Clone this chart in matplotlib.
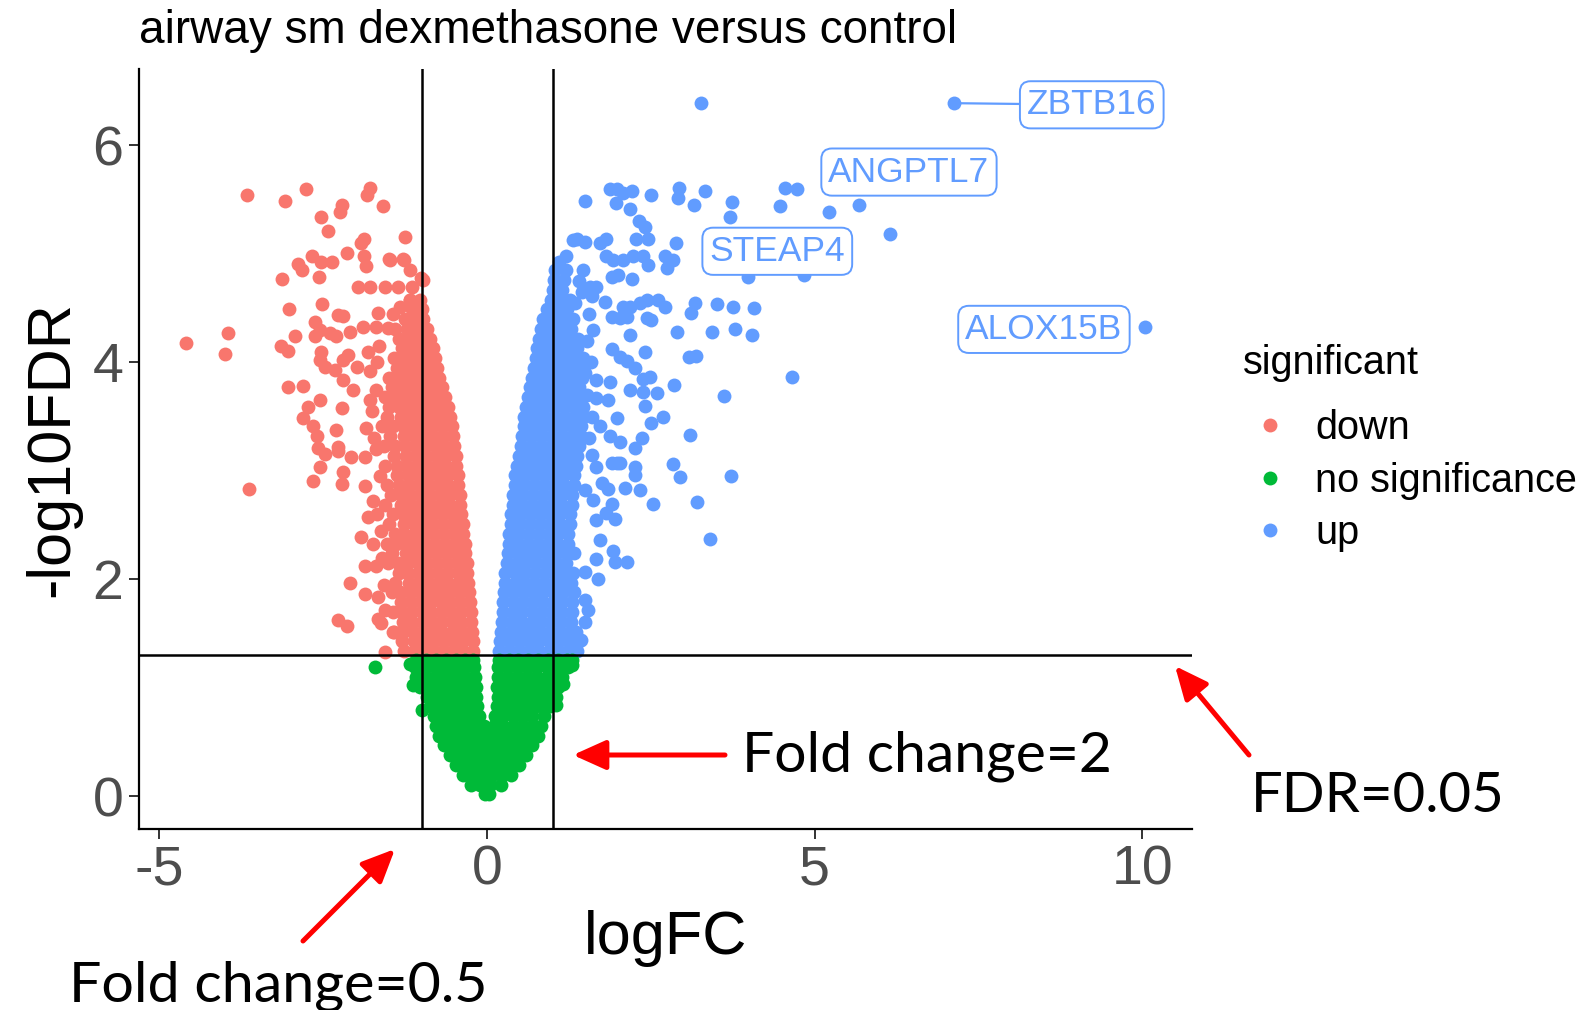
import numpy as np
import matplotlib
matplotlib.use("Agg")
import matplotlib.pyplot as plt
from matplotlib.lines import Line2D

# colours used by ggplot2 for the three groups
col_down = "#F8766D"
col_ns = "#00BA38"
col_up = "#619CFF"

# ---------------- data ----------------
# dense core of the "down" cloud, one list of logFC values per -log10FDR row
down_core_y = [1.34, 1.43, 1.52, 1.61, 1.70, 1.79, 1.88, 1.97, 2.06, 2.15, 2.24, 2.33,
               2.42, 2.51, 2.60, 2.69, 2.78, 2.87, 2.96, 3.05, 3.14, 3.23, 3.32, 3.41,
               3.50, 3.59, 3.68, 3.77, 3.86, 3.95, 4.04, 4.13, 4.22, 4.31, 4.40, 4.49, 4.58]
down_core_x = [
    [-0.21, -0.36, -0.51, -0.66, -0.81, -0.96, -1.11, -1.26],
    [-0.22, -0.37, -0.52, -0.67, -0.82, -0.97, -1.12, -1.30],
    [-0.23, -0.38, -0.53, -0.68, -0.83, -0.98, -1.13, -1.28, -1.42],
    [-0.24, -0.39, -0.54, -0.69, -0.84, -0.99, -1.14, -1.29],
    [-0.25, -0.40, -0.55, -0.70, -0.85, -1.00, -1.15, -1.30, -1.43],
    [-0.26, -0.41, -0.56, -0.71, -0.86, -1.01, -1.16, -1.31],
    [-0.28, -0.43, -0.58, -0.73, -0.88, -1.03, -1.18, -1.33, -1.45],
    [-0.29, -0.44, -0.59, -0.74, -0.89, -1.04, -1.19, -1.40],
    [-0.30, -0.45, -0.60, -0.75, -0.90, -1.05, -1.20, -1.35],
    [-0.31, -0.46, -0.61, -0.76, -0.91, -1.06, -1.21, -1.36, -1.51],
    [-0.33, -0.48, -0.63, -0.78, -0.93, -1.08, -1.23, -1.45],
    [-0.34, -0.49, -0.64, -0.79, -0.94, -1.09, -1.24, -1.39, -1.52],
    [-0.36, -0.51, -0.66, -0.81, -0.96, -1.11, -1.26, -1.41],
    [-0.37, -0.52, -0.67, -0.82, -0.97, -1.12, -1.27, -1.50],
    [-0.39, -0.54, -0.69, -0.84, -0.99, -1.14, -1.29, -1.44],
    [-0.41, -0.56, -0.71, -0.86, -1.01, -1.16, -1.31, -1.55],
    [-0.42, -0.57, -0.72, -0.87, -1.02, -1.17, -1.32, -1.47],
    [-0.44, -0.59, -0.74, -0.89, -1.04, -1.19, -1.34, -1.52],
    [-0.45, -0.60, -0.75, -0.90, -1.05, -1.20, -1.38],
    [-0.47, -0.62, -0.77, -0.92, -1.07, -1.22, -1.37, -1.55],
    [-0.48, -0.63, -0.78, -0.93, -1.08, -1.23, -1.42],
    [-0.50, -0.65, -0.80, -0.95, -1.10, -1.25, -1.40, -1.58],
    [-0.52, -0.67, -0.82, -0.97, -1.12, -1.27, -1.48],
    [-0.54, -0.69, -0.84, -0.99, -1.14, -1.29, -1.44, -1.60],
    [-0.56, -0.71, -0.86, -1.01, -1.16, -1.31, -1.52],
    [-0.59, -0.74, -0.89, -1.04, -1.19, -1.34, -1.49],
    [-0.64, -0.79, -0.94, -1.09, -1.24, -1.39, -1.56],
    [-0.68, -0.83, -0.98, -1.13, -1.28, -1.45],
    [-0.73, -0.88, -1.03, -1.18, -1.33, -1.50],
    [-0.77, -0.92, -1.07, -1.22, -1.37],
    [-0.80, -0.95, -1.10, -1.25, -1.42],
    [-0.83, -0.98, -1.13, -1.30],
    [-0.87, -1.02, -1.17, -1.34],
    [-0.92, -1.07, -1.22, -1.40],
    [-0.97, -1.12, -1.25],
    [-1.00, -1.15],
    [-1.02, -1.18],
]
# scattered "down" genes
down_pts = [
    (-3.66, 5.54), (-3.08, 5.49), (-2.77, 5.60), (-1.78, 5.61), (-1.83, 5.54), (-1.59, 5.44),
    (-2.21, 5.45), (-2.25, 5.39), (-2.54, 5.34), (-2.42, 5.21), (-1.25, 5.16), (-1.88, 5.14),
    (-1.93, 5.10), (-2.13, 5.01), (-2.67, 4.98), (-2.89, 4.91), (-2.82, 4.85), (-2.53, 4.93),
    (-2.37, 4.93), (-2.57, 4.79), (-3.13, 4.77), (-1.88, 4.98), (-1.85, 4.89), (-1.48, 4.94),
    (-1.28, 4.95), (-1.18, 4.85), (-1.01, 4.78), (-1.97, 4.70), (-1.79, 4.70), (-1.56, 4.70),
    (-1.36, 4.70), (-1.15, 4.70), (-2.52, 4.54), (-3.03, 4.49), (-2.27, 4.44), (-2.20, 4.43),
    (-1.66, 4.46), (-1.43, 4.45), (-1.33, 4.51), (-1.18, 4.58), (-4.59, 4.18), (-3.95, 4.27),
    (-4.00, 4.08), (-3.14, 4.15), (-3.04, 4.11), (-2.93, 4.24), (-2.62, 4.37), (-2.62, 4.24),
    (-2.55, 4.30), (-2.40, 4.27), (-2.30, 4.24), (-2.09, 4.28), (-1.89, 4.33), (-1.69, 4.33),
    (-1.51, 4.32), (-2.53, 4.10), (-2.55, 4.02), (-2.48, 3.96), (-2.32, 3.93), (-2.20, 4.02),
    (-2.12, 4.07), (-1.99, 3.96), (-1.79, 3.92), (-3.04, 3.77), (-2.81, 3.78), (-2.20, 3.84),
    (-2.04, 3.75), (-2.55, 3.65), (-2.73, 3.59), (-2.81, 3.49), (-2.21, 3.58), (-2.65, 3.41),
    (-2.60, 3.32), (-2.58, 3.21), (-2.48, 3.16), (-2.30, 3.38), (-2.27, 3.22), (-2.07, 3.13),
    (-1.87, 3.13), (-3.63, 2.83), (-2.66, 2.91), (-2.55, 3.04), (-2.27, 3.18), (-2.22, 2.88),
    (-2.20, 2.99), (-1.87, 2.86), (-1.74, 2.72), (-1.81, 2.58), (-1.92, 2.39), (-1.74, 2.33),
    (-1.87, 2.12), (-1.69, 2.12), (-2.09, 1.97), (-1.87, 1.87), (-1.66, 1.84), (-2.27, 1.63),
    (-2.14, 1.57), (-1.66, 1.64), (-1.43, 1.52), (-1.56, 1.33), (-1.75, 3.55), (-1.70, 3.75),
    (-1.85, 3.40), (-1.72, 3.30), (-1.78, 3.65), (-1.68, 4.00), (-1.82, 4.10), (-1.65, 4.15),
    (-1.70, 3.20), (-1.64, 2.95), (-1.68, 2.60), (-1.62, 2.45), (-1.60, 2.20), (-1.57, 1.95),
    (-1.55, 1.72), (-1.62, 1.60), (-0.98, 4.76), (-1.49, 4.95), (-1.26, 4.94),
]

# dense core of the "up" cloud
up_core_y = [1.34, 1.43, 1.52, 1.61, 1.70, 1.79, 1.88, 1.97, 2.06, 2.15, 2.24, 2.33,
             2.42, 2.51, 2.60, 2.69, 2.78, 2.87, 2.96, 3.05, 3.14, 3.23, 3.32, 3.41,
             3.50, 3.59, 3.68, 3.77, 3.86, 3.95, 4.04, 4.13, 4.22, 4.31, 4.40, 4.49,
             4.58, 4.67, 4.76, 4.85]
up_core_x = [
    [0.19, 0.34, 0.49, 0.64, 0.79, 0.94, 1.09, 1.24, 1.38],
    [0.20, 0.35, 0.50, 0.65, 0.80, 0.95, 1.10, 1.25, 1.40],
    [0.21, 0.36, 0.51, 0.66, 0.81, 0.96, 1.11, 1.26, 1.36],
    [0.23, 0.38, 0.53, 0.68, 0.83, 0.98, 1.13, 1.28],
    [0.24, 0.39, 0.54, 0.69, 0.84, 0.99, 1.14, 1.30],
    [0.25, 0.40, 0.55, 0.70, 0.85, 1.00, 1.15, 1.29],
    [0.26, 0.41, 0.56, 0.71, 0.86, 1.01, 1.16, 1.32],
    [0.27, 0.42, 0.57, 0.72, 0.87, 1.02, 1.17, 1.28],
    [0.28, 0.43, 0.58, 0.73, 0.88, 1.03, 1.18, 1.31],
    [0.30, 0.45, 0.60, 0.75, 0.90, 1.05, 1.20],
    [0.32, 0.47, 0.62, 0.77, 0.92, 1.07, 1.22, 1.33],
    [0.33, 0.48, 0.63, 0.78, 0.93, 1.08, 1.23],
    [0.34, 0.49, 0.64, 0.79, 0.94, 1.09, 1.24],
    [0.36, 0.51, 0.66, 0.81, 0.96, 1.11, 1.26],
    [0.37, 0.52, 0.67, 0.82, 0.97, 1.12, 1.27],
    [0.39, 0.54, 0.69, 0.84, 0.99, 1.14, 1.29],
    [0.40, 0.55, 0.70, 0.85, 1.00, 1.15, 1.30],
    [0.42, 0.57, 0.72, 0.87, 1.02, 1.17, 1.32],
    [0.43, 0.58, 0.73, 0.88, 1.03, 1.18, 1.33],
    [0.46, 0.61, 0.76, 0.91, 1.06, 1.21, 1.36],
    [0.49, 0.64, 0.79, 0.94, 1.09, 1.24, 1.38],
    [0.52, 0.67, 0.82, 0.97, 1.12, 1.27, 1.40],
    [0.54, 0.69, 0.84, 0.99, 1.14, 1.29, 1.44],
    [0.56, 0.71, 0.86, 1.01, 1.16, 1.31, 1.43],
    [0.57, 0.72, 0.87, 1.02, 1.17, 1.32, 1.46],
    [0.59, 0.74, 0.89, 1.04, 1.19, 1.34, 1.47],
    [0.62, 0.77, 0.92, 1.07, 1.22, 1.37],
    [0.65, 0.80, 0.95, 1.10, 1.25, 1.40],
    [0.68, 0.83, 0.98, 1.13, 1.28, 1.45],
    [0.71, 0.86, 1.01, 1.16, 1.31, 1.44],
    [0.74, 0.89, 1.04, 1.19, 1.34, 1.46],
    [0.77, 0.92, 1.07, 1.22, 1.37],
    [0.79, 0.94, 1.09, 1.24, 1.39],
    [0.83, 0.98, 1.13, 1.28],
    [0.86, 1.01, 1.16, 1.31],
    [0.92, 1.07, 1.22],
    [0.98, 1.13, 1.26],
    [1.00, 1.15],
    [1.02, 1.17],
    [1.04, 1.20],
]
# scattered "up" genes
up_pts = [
    (3.27, 6.39), (7.13, 6.39), (10.04, 4.33),
    (1.50, 5.49), (1.87, 5.60), (1.99, 5.60), (2.07, 5.56), (2.21, 5.58), (1.97, 5.47),
    (2.18, 5.41), (2.51, 5.54), (2.93, 5.61), (2.91, 5.52), (3.33, 5.58), (3.16, 5.45),
    (3.74, 5.48), (3.71, 5.34), (4.55, 5.61), (4.73, 5.60), (4.47, 5.44), (5.22, 5.39),
    (5.67, 5.45), (6.15, 5.18), (2.32, 5.30), (2.41, 5.25), (1.37, 5.14), (1.49, 5.11),
    (1.73, 5.10), (1.81, 5.14), (2.28, 5.14), (2.46, 5.14), (2.89, 5.10), (1.82, 4.98),
    (1.93, 4.94), (2.08, 4.94), (2.23, 4.98), (2.38, 4.98), (2.46, 4.90), (2.71, 4.98),
    (2.84, 4.94), (2.74, 4.87), (3.99, 4.79), (4.84, 4.81), (1.90, 4.79), (2.00, 4.81),
    (2.21, 4.77), (1.47, 4.85), (1.57, 4.70), (1.67, 4.70), (1.80, 4.56), (1.60, 4.61),
    (2.08, 4.51), (2.18, 4.51), (2.33, 4.55), (2.44, 4.58), (2.61, 4.58), (2.71, 4.51),
    (1.90, 4.42), (2.03, 4.41), (2.13, 4.42), (2.44, 4.41), (2.51, 4.39), (3.17, 4.55),
    (3.11, 4.46), (3.51, 4.54), (3.76, 4.51), (4.08, 4.50), (2.90, 4.28), (3.44, 4.28),
    (3.79, 4.31), (4.05, 4.25), (2.18, 4.25), (1.90, 4.12), (2.41, 4.10), (2.03, 4.05),
    (2.13, 4.01), (2.26, 3.95), (3.09, 4.05), (3.19, 4.06), (2.38, 3.85), (2.49, 3.87),
    (2.85, 3.79), (4.66, 3.87), (1.67, 3.84), (1.87, 3.82), (2.18, 3.75), (2.38, 3.73),
    (2.59, 3.72), (1.67, 3.67), (1.85, 3.65), (2.41, 3.60), (3.62, 3.69), (1.99, 3.49),
    (2.51, 3.44), (2.69, 3.50), (3.10, 3.33), (1.60, 3.50), (1.72, 3.41), (1.87, 3.32),
    (2.03, 3.27), (2.36, 3.30), (2.26, 3.21), (1.98, 3.07), (1.90, 3.07), (2.26, 3.04),
    (2.26, 2.96), (2.33, 2.82), (2.10, 2.84), (2.84, 3.06), (2.94, 2.94), (3.73, 2.95),
    (2.54, 2.70), (3.20, 2.71), (3.41, 2.37), (1.75, 2.89), (1.85, 2.83), (1.90, 2.70),
    (1.82, 2.61), (1.95, 2.56), (1.67, 3.04), (2.03, 3.07), (1.49, 2.82), (1.62, 2.73),
    (1.67, 2.55), (1.72, 2.36), (1.93, 2.26), (1.95, 2.16), (2.14, 2.16), (1.67, 2.19),
    (1.49, 2.07), (1.70, 2.00), (1.49, 1.81), (1.54, 1.72), (1.49, 1.61), (1.44, 1.44),
    (1.55, 4.45), (1.52, 4.20), (1.58, 4.00), (1.55, 3.30), (1.60, 3.15), (1.52, 3.70),
    (1.50, 3.90), (1.45, 4.65), (1.62, 4.30), (1.40, 4.75), (1.35, 4.55), (1.21, 4.98),
    (1.31, 5.13), (1.10, 4.93),
]

# "no significance" genes below the FDR line
ns_core_y = [0.02, 0.11, 0.20, 0.29, 0.38, 0.47, 0.56, 0.65, 0.74, 0.83, 0.92, 1.01, 1.10, 1.19, 1.26]
ns_core_x = [
    [-0.03, 0.03],
    [-0.25, -0.10, 0.05, 0.22],
    [-0.37, -0.22, -0.07, 0.08, 0.23, 0.36],
    [-0.48, -0.33, -0.18, -0.03, 0.12, 0.27, 0.42, 0.49],
    [-0.57, -0.42, -0.27, -0.12, 0.03, 0.18, 0.33, 0.48, 0.60],
    [-0.66, -0.51, -0.36, -0.21, -0.06, 0.09, 0.24, 0.39, 0.54, 0.69],
    [-0.74, -0.59, -0.44, -0.29, -0.14, 0.01, 0.16, 0.31, 0.46, 0.61, 0.78],
    [-0.78, -0.63, -0.48, -0.33, -0.18, -0.04, 0.10, 0.25, 0.40, 0.55, 0.70, 0.83],
    [-0.81, -0.66, -0.51, -0.36, -0.24, -0.12, 0.12, 0.24, 0.39, 0.54, 0.69, 0.87],
    [-0.86, -0.71, -0.56, -0.42, -0.28, -0.15, 0.15, 0.29, 0.44, 0.59, 0.74, 0.88, 0.96],
    [-0.92, -0.77, -0.62, -0.47, -0.32, -0.17, 0.16, 0.31, 0.46, 0.61, 0.76, 0.91, 1.05],
    [-1.02, -0.87, -0.72, -0.57, -0.42, -0.28, -0.17, 0.15, 0.28, 0.43, 0.58, 0.73, 0.88, 1.03, 1.09],
    [-1.08, -0.93, -0.78, -0.63, -0.48, -0.33, -0.18, 0.16, 0.31, 0.46, 0.61, 0.76, 0.91, 1.06, 1.15],
    [-1.10, -0.95, -0.80, -0.65, -0.50, -0.35, -0.20, 0.17, 0.32, 0.47, 0.62, 0.77, 0.92, 1.07, 1.23],
    [-1.08, -0.93, -0.78, -0.63, -0.48, -0.34, -0.21, 0.18, 0.33, 0.48, 0.63, 0.78, 0.93, 1.08, 1.22],
]
ns_pts = [(-1.71, 1.19), (1.29, 1.21), (1.16, 1.04), (1.06, 0.84), (-1.13, 1.03),
          (-1.17, 1.22), (-1.00, 0.80), (1.30, 1.26)]

# labelled genes: point, label box centre
gene_names = ["ZBTB16", "ANGPTL7", "STEAP4", "ALOX15B"]
gene_pts = [(7.13, 6.39), (5.67, 5.45), (3.99, 4.79), (10.04, 4.33)]
label_pos = [(9.23, 6.375), (6.44, 5.755), (4.43, 5.025), (8.50, 4.305)]

groups = ["down", "no significance", "up"]
fc_cut = 1.0            # log2(2)
fdr_cut = -np.log10(0.05)


def expand(core_y, core_x, extra):
    xs = [v for row in core_x for v in row]
    ys = [yv for yv, row in zip(core_y, core_x) for _ in row]
    xs += [p[0] for p in extra]
    ys += [p[1] for p in extra]
    return np.array(xs), np.array(ys)


down_x, down_y = expand(down_core_y, down_core_x, down_pts)
up_x, up_y = expand(up_core_y, up_core_x, up_pts)
ns_x, ns_y = expand(ns_core_y, ns_core_x, ns_pts)

# ---------------- figure ----------------
W, H = 1595, 1010
fig = plt.figure(figsize=(W / 100, H / 100), dpi=100)
ax = fig.add_axes([138.5 / W, 1 - 829 / H, (1192 - 138.5) / W, (829 - 69) / H])

sans = "Liberation Sans"
ms = 100
ax.scatter(down_x, down_y, s=ms, c=col_down, linewidths=0, zorder=2)
ax.scatter(up_x, up_y, s=ms, c=col_up, linewidths=0, zorder=2)
ax.scatter(ns_x, ns_y, s=ms, c=col_ns, linewidths=0, zorder=2)

ax.axvline(-fc_cut, color="black", lw=1.8, zorder=3)
ax.axvline(fc_cut, color="black", lw=1.8, zorder=3)
ax.axhline(fdr_cut, color="black", lw=1.8, zorder=3)

ax.set_xlim(-5.32, 10.76)
ax.set_ylim(-0.30, 6.705)
ax.set_xticks([-5, 0, 5, 10])
ax.set_xticklabels(["-5", "0", "5", "10"])
ax.set_yticks([0, 2, 4, 6])

for side in ["top", "right"]:
    ax.spines[side].set_visible(False)
for side in ["left", "bottom"]:
    ax.spines[side].set_linewidth(1.6)
    ax.spines[side].set_color("black")
ax.tick_params(axis="both", length=7, width=1.4, color="#333333",
               labelcolor="#4D4D4D", labelsize=40, pad=4)
for lab in ax.get_xticklabels() + ax.get_yticklabels():
    lab.set_fontfamily(sans)

ax.set_xlabel("logFC", fontsize=44, fontfamily=sans, labelpad=10)
ax.set_ylabel("-log10FDR", fontsize=44, fontfamily=sans, labelpad=8)

fig.text(139 / W, 1 - 43 / H, "airway sm dexmethasone versus control",
         fontsize=33, fontfamily=sans, va="baseline", ha="left")

# gene labels (ggrepel style boxes)
for name, (px, py), (lx, ly) in zip(gene_names, gene_pts, label_pos):
    box = dict(boxstyle="round,pad=0.2,rounding_size=0.3", fc="white",
               ec=col_up, lw=1.4)
    if name == "ZBTB16":
        ax.annotate(name, xy=(px, py), xytext=(lx, ly), fontsize=25.5,
                    fontfamily=sans, color=col_up, ha="center", va="center",
                    bbox=box, zorder=5,
                    arrowprops=dict(arrowstyle="-", color=col_up, lw=1.6,
                                    shrinkA=0, shrinkB=0))
    else:
        ax.text(lx, ly, name, fontsize=25.5, fontfamily=sans, color=col_up,
                ha="center", va="center", bbox=box, zorder=5)

# legend
handles = [Line2D([], [], marker="o", ls="", color=c, markersize=10, markeredgewidth=0)
           for c in [col_down, col_ns, col_up]]
leg = fig.legend(handles, groups, loc="upper left",
                 bbox_to_anchor=(1243 / W, 1 - 409 / H), frameon=False,
                 prop={"family": sans, "size": 28.5}, handlelength=1.34,
                 handletextpad=0.48, labelspacing=0.37, borderpad=0,
                 borderaxespad=0)
fig.text(1243 / W, 1 - 374 / H, "significant", fontsize=28.5, fontfamily=sans,
         va="baseline", ha="left")

# red call-out arrows and notes
note_font = "Lato"
arrow_kw = dict(arrowstyle="-|>,head_length=1.0,head_width=0.45", color="red",
                lw=3.6, mutation_scale=20, shrinkA=0, shrinkB=0)
ax.annotate("", xy=(573, H - 755), xytext=(725, H - 755),
            xycoords="figure pixels", textcoords="figure pixels", arrowprops=arrow_kw)
ax.annotate("", xy=(1175, H - 666), xytext=(1249, H - 755),
            xycoords="figure pixels", textcoords="figure pixels", arrowprops=arrow_kw)
ax.annotate("", xy=(395, H - 849), xytext=(303, H - 941),
            xycoords="figure pixels", textcoords="figure pixels", arrowprops=arrow_kw)
fig.text(742 / W, 1 - 771 / H, "Fold change=2", fontsize=41, fontfamily=note_font,
         va="baseline", ha="left")
fig.text(1251 / W, 1 - 812 / H, "FDR=0.05", fontsize=40.5, fontfamily=note_font,
         va="baseline", ha="left")
fig.text(69 / W, 1 - 1002 / H, "Fold change=0.5", fontsize=41.3, fontfamily=note_font,
         va="baseline", ha="left")

fig.savefig("out.png", dpi=100)
